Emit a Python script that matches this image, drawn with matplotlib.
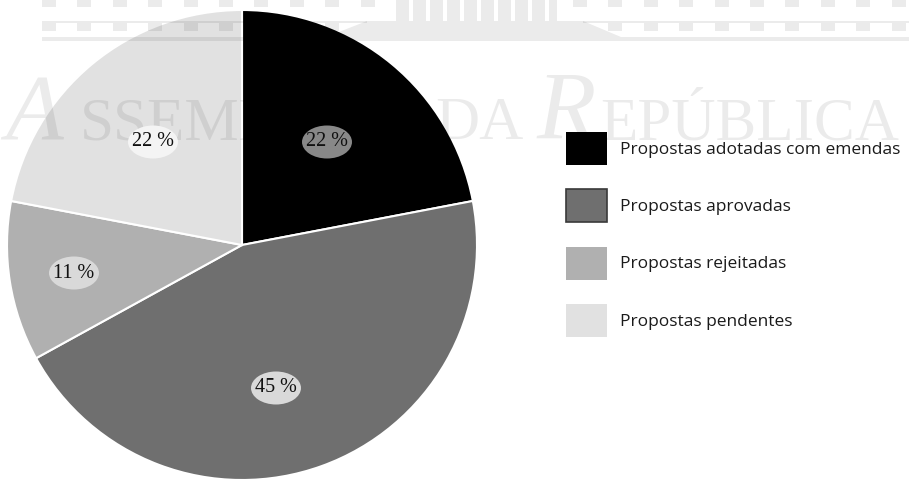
import matplotlib
matplotlib.use("Agg")
import matplotlib.pyplot as plt
from matplotlib.patches import Rectangle, Polygon, Ellipse, Patch

# ============= data =============
categories = ["Propostas adotadas com emendas", "Propostas aprovadas",
              "Propostas rejeitadas", "Propostas pendentes"]
values = [22, 45, 11, 22]
colors = ["#000000", "#6f6f6f", "#b0b0b0", "#e1e1e1"]
legend_edges = ["none", "#3a3a3a", "none", "none"]
label_bg = ["#888888", "#d9d9d9", "#d9d9d9", "#f4f4f4"]

W, H = 909, 480
fig = plt.figure(figsize=(W / 100, H / 100), dpi=100)
ax = fig.add_axes([0, 0, 1, 1])

# ============= pie =============
cx, cy, R = 242, H - 245, 235
wedges, texts, autotexts = ax.pie(
    values, colors=colors, startangle=90, counterclock=False,
    center=(cx, cy), radius=R,
    autopct=lambda p: f"{p:.0f} %",
    wedgeprops=dict(edgecolor="white", linewidth=1.5),
    textprops=dict(family="Liberation Serif", fontsize=14.5, color="#111111"))

# label spots (pixel coords, y measured from the top)
label_xy = [(327, 142), (276, 388), (74, 273), (153, 142)]
for t, (lx, ly), bg in zip(autotexts, label_xy, label_bg):
    t.set_position((lx, H - ly))
    t.set_zorder(5)
    ax.add_patch(Ellipse((lx, H - ly), 50, 33, facecolor=bg, edgecolor="none", zorder=4))

ax.set_xlim(0, W)
ax.set_ylim(0, H)
ax.set_aspect("equal")
ax.axis("off")

# ============= watermark (dark, very transparent -> multiplies what is under it) =============
wm = dict(facecolor="black", edgecolor="none", alpha=0.08, zorder=3)

def box(x0, y0, x1, y1):
    ax.add_patch(Rectangle((x0, H - y1), x1 - x0, y1 - y0, **wm))

step = 35.4
for k in range(25):
    x0 = 42 + step * k
    x1 = min(x0 + 14, W)
    if x0 >= W:
        break
    if not (x1 > 396 and x0 < 557):
        box(x0, 0, x1, 7)
    if x1 < 367 or x0 > 583:
        box(x0, 23, x1, 31)

# parliament front
box(42, 21, 367, 23)
box(583, 21, W, 23)
ax.add_patch(Polygon([(367, H - 21), (583, H - 21), (621, H - 37), (326, H - 37)], **wm))
box(42, 37, W, 41)

# columns of the central block
xs = 396
while xs < 557:
    box(xs, 0, min(xs + 13, 557), 15)
    xs += 17
for xb in range(396, 557, 34):
    box(xb, 15, min(xb + 13, 557), 21)
    box(xb + 17, 15, min(xb + 30, 557), 21)

wt = dict(color="black", alpha=0.08, zorder=3, va="baseline", ha="left",
          family="Liberation Serif")
base = H - 139
ax.text(5, base, "A", fontsize=68, style="italic", **wt)
ax.text(80, base, "SSEMBLEIA", fontsize=44, **wt)
ax.text(435, base, "DA", fontsize=44, **wt)
ax.text(537, base, "R", fontsize=70, style="italic", **wt)
ax.text(600, base, "EPÚBLICA", fontsize=44, **wt)

# ============= legend =============
handles = [Patch(facecolor=c, edgecolor=e, linewidth=1.2) for c, e in zip(colors, legend_edges)]
fs = 12.5
fs_px = fs * 100 / 72
ax.legend(handles, categories, loc="upper left", bbox_to_anchor=(566, H - 132),
          bbox_transform=ax.transData, frameon=False, borderpad=0, borderaxespad=0,
          handlelength=41 / fs_px, handleheight=2.55, handletextpad=13 / fs_px,
          labelspacing=24.3 / fs_px, prop=dict(family="Open Sans", size=fs),
          labelcolor="#1a1a1a")

fig.savefig("out.png", dpi=100)
